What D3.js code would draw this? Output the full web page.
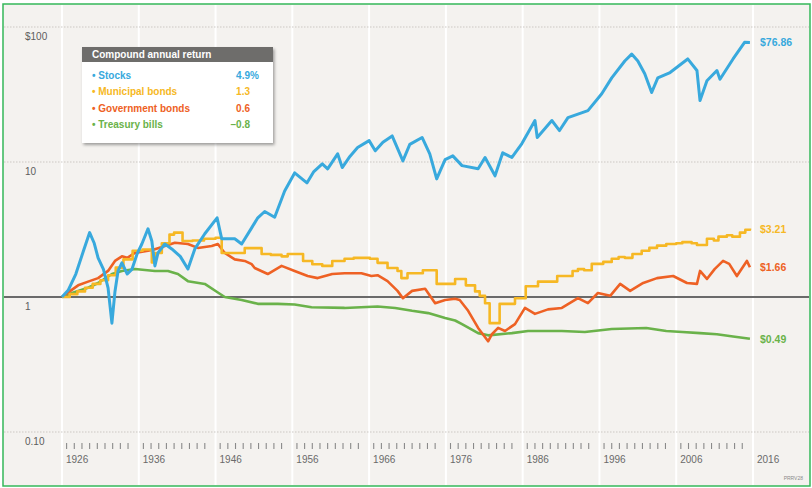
<!DOCTYPE html>
<html>
<head>
<meta charset="utf-8">
<script src="https://cdn.jsdelivr.net/npm/d3@7"></script>
<style>
  html, body { margin: 0; padding: 0; background: #fff; }
  svg { display: block; font-family: "Liberation Sans Narrow", "Arial Narrow", sans-serif; }
</style>
</head>
<body>
<svg id="chart" width="812" height="488"></svg>
<script>
// values are growth of $1 (log scale) as [year, value]
const stocks = [[1926,1.0],[1926.8,1.12],[1927.8,1.48],[1928.8,2.2],[1929.6,3.0],[1930.2,2.5],[1930.7,1.95],[1931.4,1.6],
  [1932.0,1.17],[1932.5,0.64],[1932.9,1.1],[1933.3,1.56],[1933.8,1.79],[1934.5,1.48],[1935.1,1.6],[1935.8,2.1],[1936.4,2.47],
  [1937.2,3.2],[1937.7,2.6],[1938.1,1.7],[1938.5,2.12],[1939.4,2.47],[1940.3,2.27],[1941.4,2.0],[1942.4,1.61],[1943.3,2.27],
  [1944.6,2.94],[1946.2,3.86],[1946.8,2.7],[1948.5,2.7],[1949.4,2.47],[1950.7,3.25],[1951.5,3.86],[1952.4,4.3],[1953.7,3.9],
  [1955.0,6.1],[1956.3,8.3],[1957.9,7.0],[1958.8,8.5],[1959.9,9.7],[1960.6,8.9],[1961.9,11.5],[1962.5,9.1],[1963.5,11],
  [1964.5,12.8],[1966.0,14.4],[1966.8,12.1],[1967.8,14],[1969.0,15.6],[1970.4,10.2],[1971.3,13.5],[1972.9,15.2],[1973.9,11.5],
  [1974.8,7.5],[1975.9,10.4],[1976.9,11.1],[1978.1,9.4],[1980.2,8.9],[1981.1,10.8],[1982.4,7.9],[1983.4,11.7],[1984.6,10.8],
  [1985.9,13.7],[1987.6,20.3],[1987.9,15.2],[1989.8,20.3],[1990.8,17.1],[1991.9,21.3],[1994.5,24],[1996.3,32],[1997.6,42],
  [1999.3,56],[2000.2,63],[2001.0,56],[2001.9,45],[2002.8,32.7],[2003.6,42],[2005.2,46],[2007.5,58],[2008.7,47.6],[2009.1,28.5],
  [2010.0,40],[2011.3,47.6],[2011.7,41],[2013.4,58],[2014.9,77],[2015.6,76.86]];

const municipal = [[1926,1.0],[1927,1.05],[1928,1.1],[1929,1.17],[1930,1.25],[1931,1.33],[1932,1.45],[1933,1.65],[1934,1.9],
  [1935.2,2.2],[1936.5,2.25],[1937.7,1.8],[1938.1,2.12],[1939,2.5],[1940,2.9],[1940.6,3.0],[1941.7,2.6],[1943,2.62],[1944.5,2.7],
  [1946,2.75],[1946.8,2.12],[1949.8,2.3],[1952,2.08],[1953.2,2.05],[1954.6,2.0],[1955.4,2.08],[1957.4,1.85],[1958.6,1.75],
  [1959.9,1.7],[1961.2,1.85],[1962.8,1.92],[1964,1.95],[1966.1,1.92],[1967.1,1.79],[1968.4,1.64],[1969.7,1.56],[1970.2,1.38],
  [1971,1.5],[1973,1.58],[1974.8,1.25],[1977.2,1.36],[1978.6,1.22],[1979.8,1.1],[1980.4,1.02],[1981.1,0.9],[1981.7,0.64],
  [1983,0.89],[1985,0.98],[1986.4,1.2],[1988,1.3],[1990.5,1.43],[1992.5,1.56],[1993.2,1.61],[1994,1.58],[1995,1.76],[1996.5,1.82],
  [1997.6,1.92],[1998.5,1.98],[1999.3,1.95],[2000.3,2.08],[2001.5,2.2],[2002.5,2.31],[2003.5,2.4],[2004.7,2.47],[2006,2.5],
  [2006.8,2.55],[2008,2.5],[2008.7,2.43],[2010,2.7],[2010.9,2.62],[2011.5,2.8],[2012.6,2.87],[2013.3,2.8],[2014.3,3.0],
  [2015,3.15],[2015.6,3.21]];

const government = [[1926,1.0],[1927,1.1],[1928.1,1.22],[1929.4,1.3],[1930.7,1.38],[1932,1.56],[1932.9,1.85],[1933.8,2.0],
  [1934.5,1.95],[1935.5,2.12],[1937.2,2.2],[1938,2.25],[1939.4,2.39],[1940.7,2.52],[1942.4,2.47],[1943.7,2.31],[1945.5,2.39],
  [1946.3,2.47],[1947.2,2.12],[1948.5,1.9],[1949.8,1.85],[1950.7,1.75],[1951.1,1.64],[1952.8,1.48],[1954.6,1.7],[1956.3,1.56],
  [1958,1.43],[1959.3,1.38],[1961.2,1.48],[1962.8,1.5],[1965,1.5],[1966.3,1.43],[1967.1,1.45],[1968.4,1.31],[1969.7,1.11],
  [1970.4,0.98],[1971.6,1.11],[1973.3,1.15],[1974.6,0.9],[1975.9,0.95],[1977.2,0.97],[1977.8,0.95],[1978.9,0.79],[1980.2,0.59],
  [1981.5,0.47],[1982,0.53],[1982.8,0.59],[1983.7,0.56],[1985,0.63],[1986.3,0.83],[1987.6,0.75],[1989.3,0.81],[1991.1,0.83],
  [1993.2,0.98],[1994.5,0.9],[1995.8,1.07],[1997.4,1.02],[1998.7,1.25],[2000,1.11],[2001.7,1.27],[2003.5,1.38],[2005.6,1.43],
  [2007.4,1.27],[2008.7,1.25],[2009.1,1.56],[2010,1.36],[2011,1.61],[2012.1,1.85],[2012.9,1.76],[2013.9,1.43],[2015.2,1.85],
  [2015.6,1.66]];

const treasury = [[1926,1.0],[1927.5,1.08],[1929.4,1.17],[1930.7,1.27],[1932.5,1.48],[1933.8,1.56],[1935.5,1.61],[1938.1,1.56],
  [1939.8,1.56],[1941.1,1.48],[1942.4,1.31],[1944.6,1.25],[1946.3,1.08],[1947.2,1.0],[1949.4,0.95],[1951.5,0.89],[1954.1,0.89],
  [1956.3,0.88],[1958.5,0.84],[1962.8,0.83],[1967.1,0.85],[1969.4,0.83],[1971.6,0.79],[1973.7,0.76],[1975.9,0.7],[1977.2,0.67],
  [1978.1,0.63],[1980.2,0.54],[1981.5,0.52],[1984.6,0.54],[1986.7,0.56],[1991.1,0.56],[1994.1,0.55],[1997.6,0.58],[2002.1,0.59],
  [2004.7,0.56],[2006.8,0.55],[2009.1,0.54],[2011.3,0.53],[2013.4,0.51],[2015.6,0.49]];

const seriesNames = ["Stocks", "Municipal bonds", "Government bonds", "Treasury bills"];
const seriesColors = ["#38a9dd", "#f6b824", "#ee6124", "#6ab24a"];
const annualReturns = ["4.9", "1.3", "0.6", "\u20130.8"];
const endLabels = ["$76.86", "$3.21", "$1.66", "$0.49"];
const yTicks = [100, 10, 1, 0.1];
const yTickLabels = ["$100", "10", "1", "0.10"];
const decades = d3.range(1926, 2017, 10);

const svg = d3.select("#chart");
const width = +svg.attr("width");
const height = +svg.attr("height");

const x = d3.scaleLinear().domain([1926, 2016]).range([62, 753]);
const y = d3.scaleLog().domain([0.1, 100]).range([432, 27]);

// background + frame
svg.append("rect").attr("x", 3).attr("y", 4).attr("width", 807).attr("height", 482)
  .attr("fill", "#f4f2ef").attr("stroke", "#34b85a").attr("stroke-width", 1.5);

// vertical white decade lines
svg.append("g").selectAll("line").data(decades).join("line")
  .attr("x1", d => x(d)).attr("x2", d => x(d))
  .attr("y1", 5).attr("y2", 485)
  .attr("stroke", "#ffffff").attr("stroke-width", 2);

// horizontal grid
svg.append("g").selectAll("line").data(yTicks).join("line")
  .attr("x1", 4).attr("x2", 809)
  .attr("y1", d => y(d)).attr("y2", d => y(d))
  .attr("stroke", d => d === 1 ? "#6a6a6a" : "#cbc8c4")
  .attr("stroke-width", d => d === 1 ? 1.8 : 1.2)
  .attr("stroke-dasharray", d => d === 1 ? null : "1.5,1.5");

svg.append("g").selectAll("text").data(yTicks).join("text")
  .attr("x", 25).attr("y", d => y(d) + 13)
  .attr("font-size", 10).attr("fill", "#5d5d5d")
  .text((d, i) => yTickLabels[i]);

// year ticks along the bottom
const yearTicks = d3.range(1927, 2016).filter(d => (d - 1926) % 10 !== 0);
svg.append("g").selectAll("line").data(yearTicks).join("line")
  .attr("x1", d => x(d - 0.4)).attr("x2", d => x(d - 0.4))
  .attr("y1", 443).attr("y2", 449)
  .attr("stroke", "#8a8a8a").attr("stroke-width", 1.1);

svg.append("g").selectAll("text").data(decades).join("text")
  .attr("x", d => x(d) + 4).attr("y", 463)
  .attr("font-size", 10).attr("fill", "#6a6a6a")
  .text(d => d);

// lines
const line = d3.line().x(d => x(d[0])).y(d => y(d[1])).curve(d3.curveLinear);
const stepLine = d3.line().x(d => x(d[0])).y(d => y(d[1])).curve(d3.curveStepAfter);

const drawOrder = [3, 2, 1, 0];
const allSeries = [stocks, municipal, government, treasury];
drawOrder.forEach(i => {
  svg.append("path")
    .datum(allSeries[i])
    .attr("d", i === 1 ? stepLine : line)
    .attr("fill", "none")
    .attr("stroke", seriesColors[i])
    .attr("stroke-width", i === 0 ? 3 : 2.6)
    .attr("stroke-linejoin", "round");
});

// end labels
allSeries.forEach((s, i) => {
  const last = s[s.length - 1];
  svg.append("text")
    .attr("x", 760).attr("y", y(last[1]) + 4)
    .attr("font-size", 10.5).attr("font-weight", "bold")
    .attr("fill", seriesColors[i])
    .text(endLabels[i]);
});

// legend
const defs = svg.append("defs");
const shadow = defs.append("filter").attr("id", "shadow")
  .attr("x", "-10%").attr("y", "-10%").attr("width", "125%").attr("height", "130%");
shadow.append("feDropShadow").attr("dx", 1.5).attr("dy", 2).attr("stdDeviation", 1.5)
  .attr("flood-color", "#000").attr("flood-opacity", 0.35);

const legend = svg.append("g").attr("transform", "translate(82,47)");
legend.append("rect").attr("width", 191).attr("height", 96)
  .attr("fill", "#ffffff").attr("filter", "url(#shadow)");
legend.append("rect").attr("width", 191).attr("height", 15).attr("fill", "#6e6d6b");
legend.append("text").attr("x", 10).attr("y", 11)
  .attr("font-size", 10).attr("font-weight", "bold").attr("fill", "#ffffff")
  .text("Compound annual return");

const rows = legend.selectAll("g.row").data(seriesNames).join("g")
  .attr("class", "row")
  .attr("transform", (d, i) => `translate(0,${32 + i * 16.4})`);
rows.append("text").attr("x", 10)
  .attr("font-size", 10).attr("font-weight", "bold")
  .attr("fill", (d, i) => seriesColors[i])
  .text(d => "\u2022 " + d);
rows.append("text").attr("x", 168).attr("text-anchor", "end")
  .attr("font-size", 10).attr("font-weight", "bold")
  .attr("fill", (d, i) => seriesColors[i])
  .text((d, i) => annualReturns[i]);
rows.filter((d, i) => i === 0).append("text").attr("x", 168)
  .attr("font-size", 10).attr("font-weight", "bold")
  .attr("fill", seriesColors[0])
  .text("%");

svg.append("text").attr("x", 803).attr("y", 480).attr("text-anchor", "end")
  .attr("font-size", 5).attr("fill", "#8a8a8a").text("PRRV28");
</script>
</body>
</html>
